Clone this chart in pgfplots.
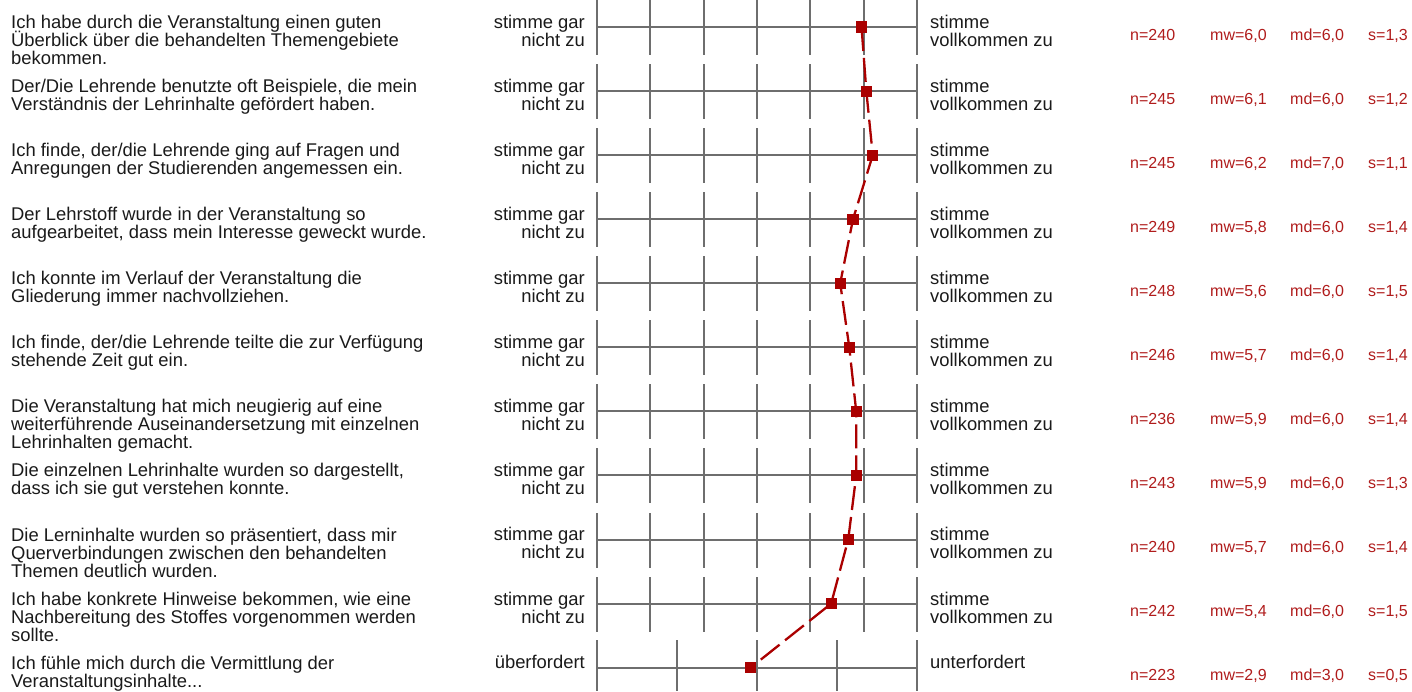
\documentclass[border=0pt]{standalone}
\usepackage{pgfplots}
\pgfplotsset{compat=1.18}
\usepackage{pgfplotstable}
\usepackage{fontspec}
\setmainfont{Liberation Sans}

\definecolor{gridgray}{HTML}{6E6E6E}
\definecolor{dred}{HTML}{AA0000}
\definecolor{statred}{HTML}{B01C1C}
\definecolor{txt}{HTML}{1A1A1A}

% mean value of each item, k = number of scale points
\pgfplotstableread{
row mw   k
1   5.96 7
2   6.05 7
3   6.17 7
4   5.80 7
5   5.56 7
6   5.73 7
7   5.86 7
8   5.86 7
9   5.71 7
10  5.39 7
11  2.92 5
}\profile

% fixed line distance, no extra lineskip
\newcommand\tight{\lineskiplimit-100pt\relax}
\newcommand\qfont{\fontsize{18.4}{18}\selectfont\tight}

% one row: number, question, n, mw, md, s
\newcommand\qrow[6]{%
  \pgfmathsetmacro\c{27+64.07*(#1-1)}%
  \pgfmathsetmacro\b{-\c-1.3+18}%
  \node[qtext, anchor=north west] at (11pt,\b pt) {\vrule height 18pt depth 0pt width 0pt#2};
  \pgfmathsetmacro\b{-\c-13}%
  \node[stat] at (1130pt,\b pt) {n=#3};
  \node[stat] at (1210pt,\b pt) {mw=#4};
  \node[stat] at (1290pt,\b pt) {md=#5};
  \node[stat] at (1368pt,\b pt) {s=#6};
}
% scale labels for a 7-point row (base = last line)
\newcommand\slabel[1]{%
  \pgfmathsetmacro\c{27+64.07*(#1-1)}%
  \pgfmathsetmacro\b{-\c-19.4}%
  \node[qtext, align=right, anchor=base east] at (585pt,\b pt) {stimme gar\\nicht zu};
  \node[qtext, anchor=base west] at (930pt,\b pt) {stimme\\vollkommen zu};
}

\begin{document}
\begin{tikzpicture}[
    qtext/.style={anchor=base west, align=left, inner sep=0pt, text=txt,
                  font=\qfont},
    stat/.style={anchor=base west, inner sep=0pt, text=statred,
                 font=\fontsize{16}{16}\selectfont},
    gridline/.style={draw=gridgray, line width=1.8pt}
]
\useasboundingbox (0pt,0pt) rectangle (1412pt,-691pt);

% grid segments, rows 1-10 (7-point scale), snapped to whole pixels
\foreach \i in {1,...,10} {
  \pgfmathsetmacro\c{round(27+64.07*(\i-1))}
  \pgfmathsetmacro\t{-\c+27}
  \pgfmathsetmacro\u{-\c-28}
  \draw[gridline] (597pt,-\c pt) -- (917pt,-\c pt);
  \foreach \j in {0,...,6} {
    \pgfmathsetmacro\xx{round(597+320*\j/6)}
    \draw[gridline] (\xx pt,\t pt) -- (\xx pt,\u pt);
  }
}
% row 11 (5-point scale)
\draw[gridline] (597pt,-668pt) -- (917pt,-668pt);
\foreach \j in {0,...,4} {
  \pgfmathsetmacro\xx{597+80*\j}
  \draw[gridline] (\xx pt,-640pt) -- (\xx pt,-691pt);
}

\qrow{1}{Ich habe durch die Veranstaltung einen guten\\Überblick über die behandelten Themengebiete\\bekommen.}{240}{6,0}{6,0}{1,3}
\qrow{2}{Der/Die Lehrende benutzte oft Beispiele, die mein\\Verständnis der Lehrinhalte gefördert haben.}{245}{6,1}{6,0}{1,2}
\qrow{3}{Ich finde, der/die Lehrende ging auf Fragen und\\Anregungen der Studierenden angemessen ein.}{245}{6,2}{7,0}{1,1}
\qrow{4}{Der Lehrstoff wurde in der Veranstaltung so\\aufgearbeitet, dass mein Interesse geweckt wurde.}{249}{5,8}{6,0}{1,4}
\qrow{5}{Ich konnte im Verlauf der Veranstaltung die\\Gliederung immer nachvollziehen.}{248}{5,6}{6,0}{1,5}
\qrow{6}{Ich finde, der/die Lehrende teilte die zur Verfügung\\stehende Zeit gut ein.}{246}{5,7}{6,0}{1,4}
\qrow{7}{Die Veranstaltung hat mich neugierig auf eine\\weiterführende Auseinandersetzung mit einzelnen\\Lehrinhalten gemacht.}{236}{5,9}{6,0}{1,4}
\qrow{8}{Die einzelnen Lehrinhalte wurden so dargestellt,\\dass ich sie gut verstehen konnte.}{243}{5,9}{6,0}{1,3}
\qrow{9}{Die Lerninhalte wurden so präsentiert, dass mir\\Querverbindungen zwischen den behandelten\\Themen deutlich wurden.}{240}{5,7}{6,0}{1,4}
\qrow{10}{Ich habe konkrete Hinweise bekommen, wie eine\\Nachbereitung des Stoffes vorgenommen werden\\sollte.}{242}{5,4}{6,0}{1,5}
\qrow{11}{Ich fühle mich durch die Vermittlung der\\Veranstaltungsinhalte...}{223}{2,9}{3,0}{0,5}

\foreach \i in {1,...,10} {\slabel{\i}}
\node[qtext, anchor=base east] at (585pt,-668pt) {überfordert};
\node[qtext] at (930pt,-668pt) {unterfordert};

\begin{axis}[
    at={(597pt,-27pt)}, anchor=north west,
    scale only axis, width=320pt, height=640.7pt,
    xmin=0, xmax=1, ymin=1, ymax=11,
    y dir=reverse, hide axis, clip=false
]
\addplot[color=dred, line width=2.3pt, dash pattern=on 24pt off 7pt,
         mark=square*, mark size=4.4pt, mark options={solid, fill=dred}]
  table[x expr={(\thisrow{mw}-1)/(\thisrow{k}-1)}, y=row] {\profile};
\end{axis}
\end{tikzpicture}
\end{document}
